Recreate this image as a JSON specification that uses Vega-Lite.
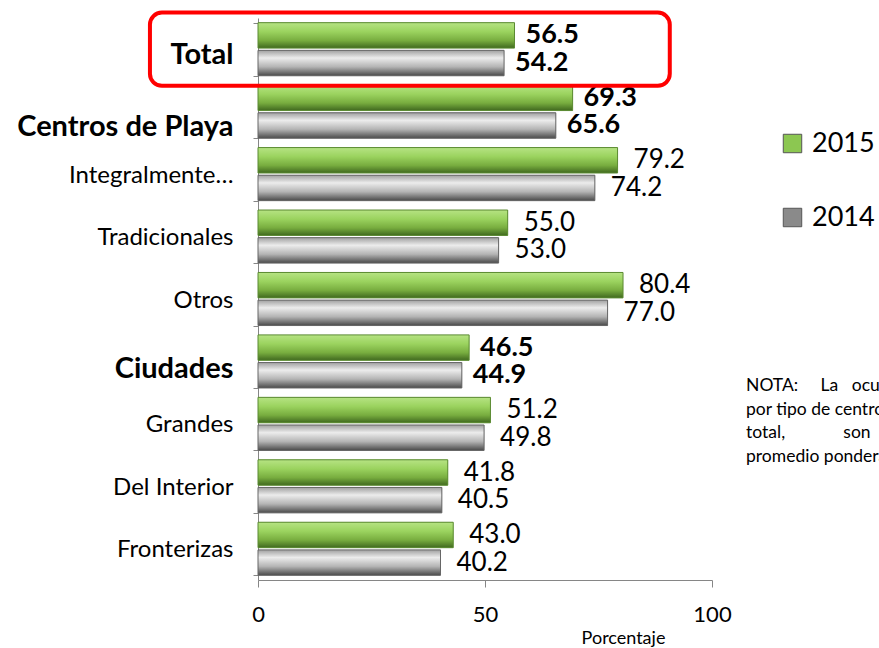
{
  "$schema": "https://vega.github.io/schema/vega-lite/v6.json",
  "autosize": {"type": "none"},
  "padding": {"left": 258, "top": 18, "right": 167, "bottom": 68},
  "width": 454,
  "height": 562,
  "background": "white",
  "config": {"font": "Lato", "view": {"stroke": null}},
  "data": {
    "values": [
      {"categoria": "Total", "anio": "2015", "valor": 56.5, "destacado": true},
      {"categoria": "Total", "anio": "2014", "valor": 54.2, "destacado": true},
      {"categoria": "Centros de Playa", "anio": "2015", "valor": 69.3, "destacado": true},
      {"categoria": "Centros de Playa", "anio": "2014", "valor": 65.6, "destacado": true},
      {"categoria": "Integralmente…", "anio": "2015", "valor": 79.2, "destacado": false},
      {"categoria": "Integralmente…", "anio": "2014", "valor": 74.2, "destacado": false},
      {"categoria": "Tradicionales", "anio": "2015", "valor": 55.0, "destacado": false},
      {"categoria": "Tradicionales", "anio": "2014", "valor": 53.0, "destacado": false},
      {"categoria": "Otros", "anio": "2015", "valor": 80.4, "destacado": false},
      {"categoria": "Otros", "anio": "2014", "valor": 77.0, "destacado": false},
      {"categoria": "Ciudades", "anio": "2015", "valor": 46.5, "destacado": true},
      {"categoria": "Ciudades", "anio": "2014", "valor": 44.9, "destacado": true},
      {"categoria": "Grandes", "anio": "2015", "valor": 51.2, "destacado": false},
      {"categoria": "Grandes", "anio": "2014", "valor": 49.8, "destacado": false},
      {"categoria": "Del Interior", "anio": "2015", "valor": 41.8, "destacado": false},
      {"categoria": "Del Interior", "anio": "2014", "valor": 40.5, "destacado": false},
      {"categoria": "Fronterizas", "anio": "2015", "valor": 43.0, "destacado": false},
      {"categoria": "Fronterizas", "anio": "2014", "valor": 40.2, "destacado": false}
    ]
  },
  "layer": [
    {
      "mark": {"type": "bar"},
      "encoding": {
        "y": {
          "field": "categoria", "type": "nominal",
          "scale": {"domain": ["Total", "Centros de Playa", "Integralmente…", "Tradicionales", "Otros", "Ciudades", "Grandes", "Del Interior", "Fronterizas"], "paddingInner": 0.15, "paddingOuter": 0.075},
          "title": null,
          "axis": {
            "domainColor": "#868686", "tickColor": "#868686", "tickSize": 5, "tickBand": "extent",
            "labelPadding": 20, "labelLimit": 300, "labelColor": "#000000",
            "labelFontSize": {"condition": {"test": "datum.value === 'Total' || datum.value === 'Centros de Playa' || datum.value === 'Ciudades'", "value": 29}, "value": 24},
            "labelFontWeight": {"condition": {"test": "datum.value === 'Total' || datum.value === 'Centros de Playa' || datum.value === 'Ciudades'", "value": "bold"}, "value": "normal"},
            "labelOffset": {"condition": [
              {"test": "datum.value === 'Total'", "value": 5},
              {"test": "datum.value === 'Centros de Playa'", "value": 15},
              {"test": "datum.value === 'Ciudades'", "value": 7}
            ], "value": 1}
          }
        },
        "x": {
          "field": "valor", "type": "quantitative",
          "scale": {"domain": [0, 100]},
          "title": "Porcentaje",
          "axis": {
            "values": [0, 50, 100], "grid": false,
            "domainColor": "#868686", "tickColor": "#868686", "tickSize": 7,
            "labelFontSize": 22, "labelColor": "#000000", "labelPadding": 17, "labelFlush": false,
            "titleFontSize": 18, "titleFontWeight": "normal", "titleColor": "#000000",
            "titleX": 365, "titleY": 58, "titleBaseline": "middle", "titleAlign": "center"
          }
        },
        "yOffset": {"field": "anio", "type": "nominal", "scale": {"domain": ["2015", "2014"], "paddingInner": 0.08}},
        "color": {
          "field": "anio", "type": "nominal",
          "scale": {"domain": ["2015", "2014"], "range": ["#8cc751", "#8a8a8a"]},
          "legend": {
            "title": null, "orient": "none", "legendX": 521, "legendY": 112,
            "symbolType": "square", "symbolSize": 340, "symbolStrokeColor": "#555555", "symbolStrokeWidth": 1,
            "labelFontSize": 27, "labelColor": "#000000", "rowPadding": 46, "labelOffset": 6
          }
        }
      }
    },
    {
      "mark": {"type": "bar", "strokeWidth": 1},
      "encoding": {
        "y": {"field": "categoria", "type": "nominal"},
        "x": {"field": "valor", "type": "quantitative"},
        "yOffset": {"field": "anio", "type": "nominal"},
        "fill": {
          "condition": {
            "test": "datum.anio === '2015'",
            "value": {"gradient": "linear", "x1": 0, "y1": 0, "x2": 0, "y2": 1, "stops": [
              {"offset": 0, "color": "#b6e383"}, {"offset": 0.35, "color": "#9bd35f"}, {"offset": 0.7, "color": "#78ad3f"}, {"offset": 1, "color": "#40691f"}]}
          },
          "value": {"gradient": "linear", "x1": 0, "y1": 0, "x2": 0, "y2": 1, "stops": [
            {"offset": 0, "color": "#a0a0a0"}, {"offset": 0.3, "color": "#ececec"}, {"offset": 0.65, "color": "#b4b4b4"}, {"offset": 1, "color": "#4a4a4a"}]}
        },
        "stroke": {"condition": {"test": "datum.anio === '2015'", "value": "#5b8a32"}, "value": "#666666"}
      }
    },
    {
      "transform": [{"filter": "datum.destacado"}],
      "mark": {"type": "text", "align": "left", "baseline": "middle", "dx": 11, "fontSize": 27, "fontWeight": "bold", "color": "#000000"},
      "encoding": {
        "y": {"field": "categoria", "type": "nominal"},
        "x": {"field": "valor", "type": "quantitative"},
        "yOffset": {"field": "anio", "type": "nominal"},
        "text": {"field": "valor", "type": "quantitative", "format": ".1f"}
      }
    },
    {
      "transform": [{"filter": "!datum.destacado"}],
      "mark": {"type": "text", "align": "left", "baseline": "middle", "dx": 16, "fontSize": 26, "color": "#000000"},
      "encoding": {
        "y": {"field": "categoria", "type": "nominal"},
        "x": {"field": "valor", "type": "quantitative"},
        "yOffset": {"field": "anio", "type": "nominal"},
        "text": {"field": "valor", "type": "quantitative", "format": ".1f"}
      }
    },
    {
      "data": {"values": [{"marco": "Total"}]},
      "mark": {"type": "bar", "fill": null, "stroke": "#ff0000", "strokeWidth": 4, "cornerRadius": 12, "height": {"band": 1.38}},
      "encoding": {
        "y": {"field": "marco", "type": "nominal"},
        "x": {"datum": -23.8},
        "x2": {"datum": 90.7}
      }
    },
    {
      "data": {"values": [{"nota": "NOTA:\u00a0\u00a0\u00a0\u00a0\u00a0La\u00a0\u00a0\u00a0ocupación hotelera\npor tipo de centro turístico y\ntotal,\u00a0\u00a0\u00a0\u00a0\u00a0\u00a0\u00a0\u00a0\u00a0\u00a0\u00a0\u00a0\u00a0son\u00a0\u00a0\u00a0resultado\npromedio ponderado"}]},
      "mark": {"type": "text", "align": "left", "baseline": "top", "dy": 16, "fontSize": 17.5, "lineHeight": 23.5, "lineBreak": "\n", "color": "#000000"},
      "encoding": {
        "y": {"datum": "Ciudades", "type": "nominal"},
        "x": {"datum": 107.5},
        "text": {"field": "nota"}
      }
    }
  ]
}
